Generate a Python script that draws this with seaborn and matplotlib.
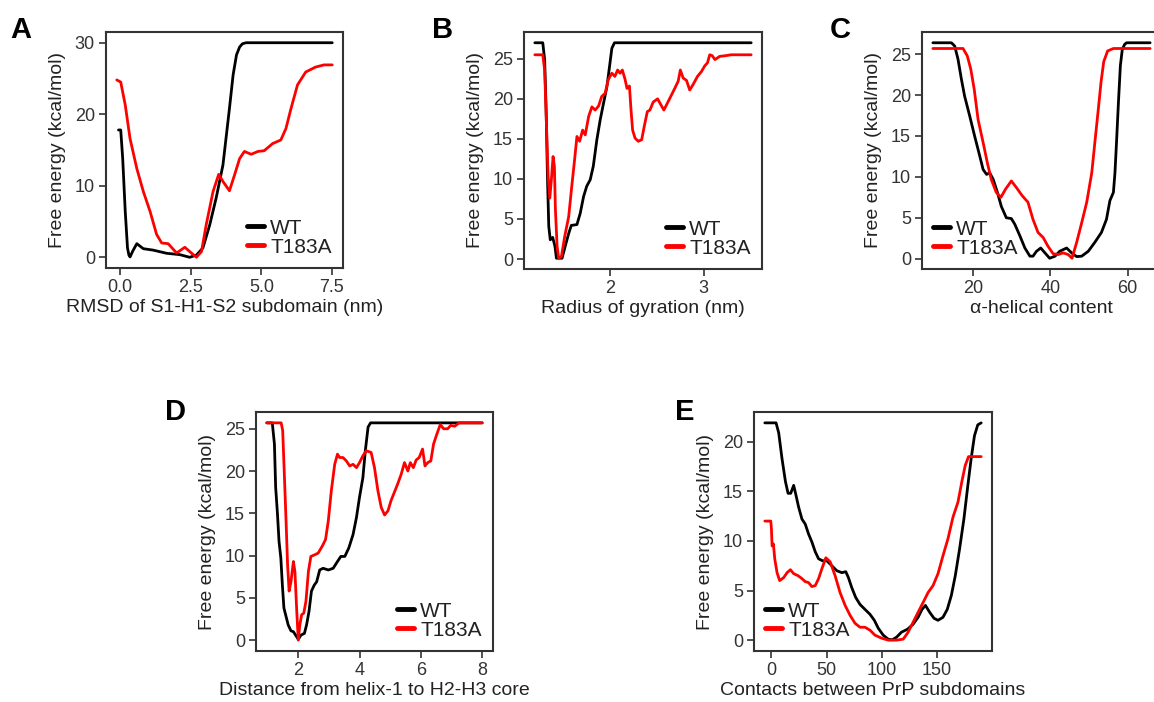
import pandas as pd
import numpy as np
import matplotlib
matplotlib.use('Agg')
import matplotlib.pyplot as plt
import seaborn as sns

# panel A - RMSD of S1-H1-S2 subdomain
a_wt_x = [-0.06, 0.02, 0.09, 0.18, 0.26, 0.31, 0.35, 0.45, 0.59, 0.82, 1.17, 1.64, 2.11, 2.46, 2.7, 2.93,
          3.17, 3.4, 3.64, 3.87, 4.0, 4.12, 4.23, 4.33, 4.46, 5.0, 6.0, 7.51]
a_wt_y = [17.8, 17.8, 13.8, 6.4, 1.3, 0.3, 0.05, 0.9, 1.9, 1.2, 1.0, 0.56, 0.37, 0.0, 0.3, 1.3,
          4.5, 8.3, 12.9, 20.8, 25.5, 28.3, 29.4, 29.85, 30.0, 30.0, 30.0, 30.0]
a_mu_x = [-0.12, 0.02, 0.18, 0.35, 0.59, 0.82, 1.06, 1.29, 1.47, 1.7, 2.0, 2.29, 2.52, 2.7, 2.88, 3.05,
          3.29, 3.49, 3.64, 3.87, 4.05, 4.23, 4.4, 4.64, 4.88, 5.1, 5.4, 5.69, 5.87, 6.05, 6.28, 6.57,
          6.92, 7.22, 7.51]
a_mu_y = [24.8, 24.5, 21.3, 16.6, 12.4, 9.2, 6.4, 3.2, 2.0, 1.9, 0.6, 1.4, 0.6, 0.0, 0.8, 4.6,
          9.2, 11.6, 10.6, 9.3, 11.5, 13.8, 14.8, 14.4, 14.8, 14.9, 15.9, 16.4, 18.0, 20.8, 24.1, 25.9,
          26.6, 26.9, 26.9]

# panel B - radius of gyration
b_wt_x = [1.195, 1.28, 1.30, 1.316, 1.33, 1.344, 1.36, 1.386, 1.41, 1.426, 1.486, 1.52, 1.557, 1.585,
          1.645, 1.68, 1.716, 1.75, 1.787, 1.82, 1.858, 1.894, 1.93, 1.965, 1.993, 2.018, 2.046, 3.507]
b_wt_y = [27.0, 27.0, 24.9, 18.6, 10.3, 4.1, 2.4, 2.7, 1.6, 0.1, 0.1, 1.6, 3.2, 4.2,
          4.3, 5.7, 7.8, 9.1, 9.9, 11.6, 14.9, 17.4, 19.5, 21.5, 24.0, 26.3, 27.0, 27.0]
b_mu_x = [1.195, 1.28, 1.30, 1.32, 1.337, 1.355, 1.372, 1.39, 1.404, 1.415, 1.433, 1.45, 1.479, 1.514,
          1.557, 1.59, 1.62, 1.645, 1.674, 1.706, 1.734, 1.77, 1.805, 1.84, 1.876, 1.91, 1.947, 1.98,
          2.018, 2.05, 2.08, 2.106, 2.13, 2.16, 2.18, 2.206, 2.223, 2.24, 2.266, 2.30, 2.337, 2.365,
          2.397, 2.425, 2.46, 2.507, 2.54, 2.574, 2.613, 2.656, 2.69, 2.727, 2.75, 2.78, 2.816, 2.85,
          2.887, 2.933, 2.975, 3.01, 3.04, 3.064, 3.09, 3.12, 3.17, 3.24, 3.29, 3.507]
b_mu_y = [25.5, 25.5, 23.6, 16.6, 10.3, 7.6, 9.9, 12.8, 11.6, 6.2, 1.6, 0.1, 0.3, 2.8,
          5.3, 9.1, 12.4, 15.3, 14.7, 16.1, 15.5, 17.8, 19.0, 18.6, 19.1, 20.3, 20.7, 22.4,
          23.2, 22.8, 23.6, 23.2, 23.6, 22.4, 21.3, 21.6, 18.6, 16.1, 15.1, 14.7, 14.9, 16.6,
          18.4, 18.6, 19.6, 20.0, 19.3, 18.6, 19.5, 20.5, 21.3, 22.2, 23.6, 22.6, 22.3, 21.1,
          21.8, 22.8, 23.4, 24.1, 24.5, 25.5, 25.4, 24.9, 25.3, 25.4, 25.5, 25.5]

# panel C - alpha-helical content
c_wt_x = [9.6, 14.4, 15.25, 16.1, 17.0, 17.8, 19.1, 20.4, 21.7, 22.6, 23.5, 24.3, 25.2, 26.3, 27.3,
          28.6, 29.9, 30.8, 32.1, 33.4, 34.7, 35.5, 36.4, 37.5, 38.6, 39.8, 41.2, 42.4, 44.2, 45.5,
          46.8, 48.1, 49.8, 51.5, 53.2, 54.5, 55.4, 56.3, 56.7, 57.1, 57.6, 58.1, 58.6, 59.2, 59.7, 65.8]
c_wt_y = [26.4, 26.4, 26.0, 24.4, 21.9, 19.9, 17.5, 15.0, 12.6, 10.9, 10.3, 10.5, 9.7, 8.1, 6.4,
          5.0, 4.9, 4.2, 2.8, 1.3, 0.3, 0.3, 0.9, 1.3, 0.7, 0.05, 0.3, 0.9, 1.3, 0.7,
          0.25, 0.3, 0.9, 2.0, 3.2, 4.8, 7.1, 8.1, 10.5, 14.2, 19.1, 23.6, 25.6, 26.2, 26.4, 26.4]
c_mu_x = [9.6, 17.4, 18.5, 19.4, 20.3, 21.3, 22.6, 23.7, 24.7, 26.0, 27.2, 28.4, 29.9, 31.2, 32.7,
          34.2, 35.5, 36.8, 38.1, 39.4, 40.7, 42.0, 43.3, 44.6, 45.6, 46.8, 48.1, 49.4, 50.7, 51.5,
          52.4, 53.1, 53.8, 54.8, 56.3, 65.8]
c_mu_y = [25.7, 25.7, 24.8, 23.2, 20.7, 17.0, 14.2, 11.7, 9.7, 8.1, 7.5, 8.5, 9.5, 8.7, 7.7,
          6.9, 4.8, 3.2, 2.6, 1.5, 0.6, 0.5, 0.7, 0.5, 0.05, 2.0, 4.4, 6.9, 10.5, 14.2,
          18.3, 21.6, 24.1, 25.4, 25.7, 25.7]

# panel D - distance from helix-1 to H2-H3 core
d_wt_x = [0.97, 1.15, 1.22, 1.26, 1.32, 1.37, 1.43, 1.48, 1.53, 1.6, 1.67, 1.76, 1.84, 1.91, 2.0, 2.09,
          2.2, 2.27, 2.35, 2.43, 2.52, 2.6, 2.7, 2.81, 2.98, 3.14, 3.28, 3.39, 3.52, 3.65, 3.79, 3.9,
          4.0, 4.11, 4.19, 4.28, 4.36, 8.01]
d_wt_y = [25.7, 25.7, 23.2, 18.1, 14.9, 11.7, 9.7, 6.5, 3.8, 2.8, 1.8, 1.1, 1.0, 0.6, 0.1, 0.6,
          0.8, 1.8, 3.4, 5.8, 6.5, 6.9, 8.3, 8.5, 8.3, 8.5, 9.3, 9.9, 9.9, 10.9, 12.5, 14.5,
          16.9, 19.2, 22.4, 25.2, 25.7, 25.7]
d_mu_x = [0.97, 1.44, 1.49, 1.54, 1.6, 1.65, 1.7, 1.76, 1.84, 1.89, 1.95, 2.0, 2.05, 2.11, 2.18, 2.25,
          2.33, 2.41, 2.54, 2.65, 2.78, 2.89, 2.98, 3.08, 3.19, 3.28, 3.35, 3.46, 3.57, 3.68, 3.79,
          3.9, 4.0, 4.11, 4.22, 4.38, 4.49, 4.6, 4.71, 4.82, 4.93, 5.03, 5.14, 5.25, 5.36, 5.47,
          5.58, 5.66, 5.76, 5.85, 5.95, 6.06, 6.14, 6.23, 6.33, 6.42, 6.53, 6.64, 6.75, 6.88, 6.98,
          7.11, 7.25, 8.01]
d_mu_y = [25.7, 25.7, 24.8, 20.0, 14.1, 8.9, 5.8, 6.9, 9.3, 8.1, 3.4, 0.0, 1.8, 3.0, 3.2, 4.6,
          8.1, 9.9, 10.1, 10.3, 11.1, 11.9, 14.1, 17.7, 20.8, 22.0, 21.6, 21.6, 21.2, 20.6, 20.8,
          20.4, 21.0, 21.8, 22.4, 22.2, 20.4, 17.7, 15.7, 14.8, 15.3, 16.5, 17.5, 18.5, 19.6, 21.0,
          20.0, 21.0, 20.4, 21.3, 21.6, 22.6, 20.6, 21.0, 21.2, 23.2, 24.4, 25.5, 25.0, 25.0, 25.4,
          25.3, 25.7, 25.7]

# panel E - contacts between PrP subdomains
e_wt_x = [-6, 4.2, 6.6, 9.6, 12.7, 15.1, 17.5, 20.2, 22.3, 24.7, 27.7, 30.7, 33.7, 36.7, 39.8, 42.8,
          46.4, 50.3, 54.8, 59.3, 63.9, 67.5, 69.9, 72.9, 76.5, 80.4, 84.9, 89.5, 93.4, 97.0, 101.5,
          106, 109.6, 113.6, 118, 123.5, 128.6, 133.1, 136.7, 139.8, 143.7, 147.6, 151.2, 155.7,
          159.6, 163.3, 166.9, 170.8, 174.7, 178.3, 181.3, 184.3, 187.3, 190.4]
e_wt_y = [21.9, 21.9, 20.9, 18.3, 16.0, 14.8, 14.8, 15.6, 14.6, 13.4, 12.2, 11.7, 10.7, 9.9, 8.9, 8.2,
          8.0, 8.0, 7.5, 7.0, 6.8, 6.9, 6.3, 5.3, 4.3, 3.6, 3.1, 2.6, 2.0, 1.2, 0.5,
          0.1, 0.03, 0.3, 0.8, 1.1, 1.6, 2.3, 3.1, 3.5, 2.8, 2.2, 2.0, 2.3,
          3.1, 4.5, 6.5, 9.2, 12.2, 15.6, 18.3, 20.6, 21.7, 21.9]
e_mu_x = [-6, -0.6, 0, 0.6, 1.8, 3.0, 5.1, 7.5, 11.1, 14.2, 17.2, 20.2, 24.1, 27.7, 30.7, 33.7, 36.7,
          39.8, 42.8, 45.8, 49.4, 53.3, 57.8, 62.3, 66.9, 71.4, 75.9, 80.4, 84.9, 89.5, 94.0, 100,
          106, 113.6, 119.6, 124.1, 128.6, 133.1, 137.7, 142.2, 146.7, 151.2, 155.7, 160.2, 164.8,
          169.3, 172.9, 175.9, 178.9, 190.4]
e_mu_y = [12.0, 12.0, 11.2, 9.5, 9.7, 8.2, 6.8, 6.0, 6.3, 6.8, 7.1, 6.7, 6.5, 6.2, 5.9, 5.8, 5.4,
          5.5, 6.2, 7.2, 8.3, 7.9, 6.5, 4.8, 3.5, 2.5, 1.7, 1.3, 1.3, 1.0, 0.5, 0.2,
          0.0, 0.0, 0.1, 0.8, 1.8, 2.8, 3.8, 4.8, 5.5, 6.7, 8.5, 10.2, 12.4,
          13.9, 16.0, 17.6, 18.5, 18.5]

xlabels = ['RMSD of S1-H1-S2 subdomain (nm)', 'Radius of gyration (nm)', 'α-helical content',
           'Distance from helix-1 to H2-H3 core', 'Contacts between PrP subdomains']
xticks = [[0.0, 2.5, 5.0, 7.5], [2, 3], [20, 40, 60], [2, 4, 6, 8], [0, 50, 100, 150]]
yticks = [[0, 10, 20, 30], [0, 5, 10, 15, 20, 25], [0, 5, 10, 15, 20, 25], [0, 5, 10, 15, 20, 25],
          [0, 5, 10, 15, 20]]
letters = ['A', 'B', 'C', 'D', 'E']

sns.set_style('ticks')
plt.rcParams['font.family'] = ['Liberation Sans', 'DejaVu Sans']
plt.rcParams['text.color'] = '#222222'
plt.rcParams['axes.labelcolor'] = '#222222'
plt.rcParams['xtick.color'] = '#333333'
plt.rcParams['ytick.color'] = '#333333'

W, H = 1154, 702
fig = plt.figure(figsize=(W / 100, H / 100), dpi=100)

# axes boxes in pixels: left, top, width, height
boxes = [(106, 32, 237, 236), (524, 32, 238, 237), (922, 32, 239, 237),
         (256, 412, 237, 239), (754, 412, 238, 239)]
letter_pos = [(10, 38), (432, 38), (830, 38), (165, 420), (675, 420)]
legend_loc = ['lower right', 'lower right', 'lower left', 'lower right', 'lower left']

data = [(a_wt_x, a_wt_y, a_mu_x, a_mu_y), (b_wt_x, b_wt_y, b_mu_x, b_mu_y),
        (c_wt_x, c_wt_y, c_mu_x, c_mu_y), (d_wt_x, d_wt_y, d_mu_x, d_mu_y),
        (e_wt_x, e_wt_y, e_mu_x, e_mu_y)]
palette = {'WT': 'black', 'T183A': 'red'}

for i, (wx, wy, mx, my) in enumerate(data):
    l, t, w, h = boxes[i]
    ax = fig.add_axes([l / W, (H - t - h) / H, w / W, h / H])
    df = pd.concat([pd.DataFrame({'x': wx, 'y': wy, 'variant': 'WT'}),
                    pd.DataFrame({'x': mx, 'y': my, 'variant': 'T183A'})], ignore_index=True)
    sns.lineplot(data=df, x='x', y='y', hue='variant', palette=palette, estimator=None,
                 sort=False, linewidth=2, ax=ax)
    for ln in ax.get_lines():
        ln.set_solid_joinstyle('round')
    ax.set_xticks(xticks[i])
    ax.set_yticks(yticks[i])
    ax.set_xlabel(xlabels[i], fontsize=14, labelpad=2)
    ax.set_ylabel('Free energy (kcal/mol)', fontsize=14, labelpad=6)
    ax.tick_params(labelsize=13, length=5, width=1.2, direction='out', pad=3)
    for s in ax.spines.values():
        s.set_linewidth(1.5)
        s.set_color('#333333')
    handles, labels = ax.get_legend_handles_labels()
    leg = ax.legend(handles, labels, loc=legend_loc[i], frameon=False, fontsize=15,
                    handlelength=0.8, handletextpad=0.3, labelspacing=0.0, borderaxespad=0.15)
    for hd in leg.legend_handles:
        hd.set_linewidth(3.5)
    fig.text(letter_pos[i][0] / W, 1 - letter_pos[i][1] / H, letters[i], fontsize=21,
             fontweight='bold', color='black', va='baseline', ha='left')

fig.savefig('out.png', dpi=100)
